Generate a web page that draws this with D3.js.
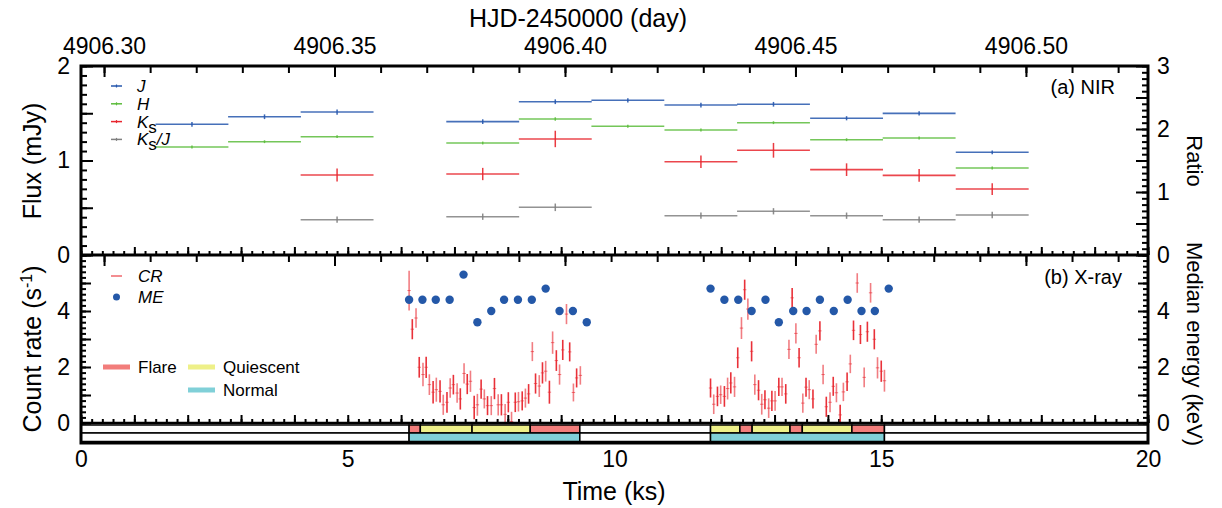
<!DOCTYPE html>
<html>
<head>
<meta charset="utf-8">
<script src="https://cdn.jsdelivr.net/npm/d3@7"></script>
<style>
  body { margin: 0; background: #fff; }
  text { font-family: "Liberation Sans", Arial, sans-serif; fill: #000; }
</style>
</head>
<body>
<svg id="chart" width="1222" height="508"></svg>
<script>
// ---- NIR photometry (panel a) ----
var nirTime = [2.08, 3.44, 4.80, 7.53, 8.89, 10.25, 11.62, 12.98, 14.35, 15.71, 17.08];
var nirHalfWidth = 0.683;
var fluxJ = [1.383, 1.463, 1.513, 1.411, 1.622, 1.637, 1.587, 1.595, 1.447, 1.499, 1.087];
var errJ  = [0.025, 0.025, 0.028, 0.025, 0.025, 0.022, 0.025, 0.025, 0.022, 0.022, 0.02];
var fluxH = [1.143, 1.199, 1.252, 1.185, 1.439, 1.362, 1.323, 1.400, 1.220, 1.238, 0.921];
var errH  = [0.015, 0.015, 0.015, 0.015, 0.018, 0.015, 0.015, 0.015, 0.015, 0.015, 0.015];
var fluxK = [null, null, 0.847, 0.857, 1.228, null, 0.987, 1.108, 0.903, 0.843, 0.698];
var errK  = [null, null, 0.069, 0.065, 0.087, null, 0.067, 0.078, 0.067, 0.067, 0.062];
var ratioKJ = [null, null, 0.56, 0.608, 0.757, null, 0.624, 0.694, 0.624, 0.56, 0.635];
var errKJ   = [null, null, 0.05, 0.05, 0.06, null, 0.05, 0.05, 0.05, 0.05, 0.05];

// ---- X-ray count rate (panel b) ----
var crTime = [6.15, 6.21, 6.28, 6.34, 6.41, 6.47, 6.53, 6.60, 6.66, 6.73, 6.79, 6.86, 6.92, 6.98, 7.05, 7.11, 7.18,
  7.24, 7.30, 7.37, 7.43, 7.50, 7.56, 7.62, 7.69, 7.75, 7.82, 7.88, 7.95, 8.01, 8.07, 8.14, 8.20, 8.27, 8.33, 8.39,
  8.46, 8.52, 8.59, 8.65, 8.71, 8.78, 8.84, 8.91, 8.97, 9.03, 9.10, 9.16, 9.23, 9.29, 9.36,
  11.80, 11.86, 11.93, 11.99, 12.06, 12.12, 12.18, 12.25, 12.31, 12.38, 12.44, 12.50, 12.57, 12.63, 12.70, 12.76,
  12.82, 12.89, 12.95, 13.01, 13.08, 13.14, 13.21, 13.27, 13.33, 13.40, 13.46, 13.53, 13.59, 13.65, 13.72, 13.78,
  13.85, 13.91, 13.97, 14.04, 14.10, 14.16, 14.23, 14.29, 14.36, 14.42, 14.48, 14.55, 14.61, 14.68, 14.74, 14.80,
  14.87, 14.93, 15.00, 15.06];
var crRate = [4.73, 3.35, 3.75, 1.99, 1.73, 1.99, 1.37, 1.10, 1.19, 1.13, 0.65, 0.74, 1.25, 1.37, 1.07, 0.86, 1.77,
  1.39, 1.49, 0.55, 0.65, 1.21, 0.86, 0.62, 0.62, 1.23, 0.65, 0.65, 0.31, 0.74, 0.05, 0.74, 0.76, 0.79, 0.89, 1.04,
  2.55, 1.41, 1.32, 1.79, 1.85, 1.10, 2.87, 2.23, 1.73, 2.61, 3.89, 2.54, 1.09, 1.61, 1.70,
  1.25, 0.67, 0.95, 1.01, 0.95, 1.23, 1.43, 1.29, 2.33, 3.39, 4.76, 4.07, 2.56, 1.37, 1.17, 0.67,
  0.83, 0.53, 0.79, 0.79, 1.29, 1.29, 1.04, 2.63, 4.47, 3.20, 2.33, 0.71, 1.28, 1.19, 0.86, 2.81,
  3.29, 1.73, 0.58, 0.74, 1.31, 1.08, 0.29, 1.11, 1.47, 2.11, 3.31, 5.00, 3.16, 1.63, 3.26, 4.65,
  2.99, 1.97, 1.85, 1.51];
var crErr = [0.71, 0.36, 0.35, 0.37, 0.42, 0.38, 0.37, 0.40, 0.43, 0.40, 0.36, 0.37, 0.35, 0.35, 0.35, 0.38, 0.36,
  0.36, 0.38, 0.42, 0.39, 0.34, 0.34, 0.34, 0.34, 0.38, 0.38, 0.38, 0.37, 0.36, 0.35, 0.35, 0.35, 0.34, 0.34, 0.35,
  0.34, 0.36, 0.39, 0.38, 0.37, 0.41, 0.40, 0.37, 0.36, 0.36, 0.36, 0.34, 0.32, 0.34, 0.33,
  0.34, 0.35, 0.35, 0.33, 0.37, 0.39, 0.38, 0.36, 0.37, 0.39, 0.36, 0.38, 0.36, 0.36, 0.36, 0.37,
  0.34, 0.35, 0.36, 0.35, 0.33, 0.33, 0.35, 0.34, 0.35, 0.36, 0.35, 0.34, 0.34, 0.34, 0.34, 0.34,
  0.34, 0.35, 0.36, 0.36, 0.34, 0.34, 0.36, 0.33, 0.33, 0.33, 0.35, 0.35, 0.34, 0.35, 0.36, 0.35,
  0.36, 0.38, 0.38, 0.39];
var crBinHalf = 0.032;

// ---- median energy ----
var meTime = [6.15, 6.40, 6.65, 6.91, 7.17, 7.43, 7.69, 7.93, 8.19, 8.45, 8.71, 8.97, 9.22, 9.48,
  11.80, 12.06, 12.32, 12.57, 12.83, 13.08, 13.35, 13.60, 13.85, 14.11, 14.37, 14.63, 14.88, 15.14];
var meVal = [4.4, 4.4, 4.4, 4.4, 5.3, 3.6, 4.0, 4.4, 4.4, 4.4, 4.8, 4.0, 4.0, 3.6,
  4.8, 4.4, 4.4, 4.0, 4.4, 3.6, 4.0, 4.0, 4.4, 4.0, 4.4, 4.0, 4.0, 4.8];

// ---- state intervals (bottom strip) ----
var stateStart = [0, 6.15, 6.36, 7.33, 8.42, 9.35, 11.80, 12.35, 12.58, 13.29, 13.52, 14.45, 15.06];
var stateEnd   = [6.15, 6.36, 7.33, 8.42, 9.35, 11.80, 12.35, 12.58, 13.29, 13.52, 14.45, 15.06, 20];
var stateType  = ["", "Flare", "Quiescent", "Quiescent", "Flare", "", "Quiescent", "Flare", "Quiescent", "Flare", "Quiescent", "Flare", ""];
var normalStart = [0, 6.15, 9.35, 11.80, 15.06];
var normalEnd   = [6.15, 9.35, 11.80, 15.06, 20];
var normalType  = ["", "Normal", "", "Normal", ""];

var hjdStart = 4906.295;  // HJD-2450000 at t = 0
var hjdTicks = [4906.30, 4906.35, 4906.40, 4906.45, 4906.50];

var colJ = "#2657ad", colH = "#5cbc3c", colK = "#e8262e", colR = "#808080";
var colCR = "#e8262e", colME = "#2458a8";
var stateColor = {"Flare": "#f27d7b", "Quiescent": "#eef088", "Normal": "#80d0d8", "": "#ffffff"};

// ---- geometry ----
var L = 81, R = 1148, T = 66, MID = 255, ZERO = 423, B = 443;
var svg = d3.select("#chart");

var x = d3.scaleLinear().domain([0, 20]).range([L, R]);
var xh = d3.scaleLinear().domain([hjdStart, hjdStart + 20 / 86.4]).range([L, R]);
var yFlux = d3.scaleLinear().domain([0, 2]).range([MID, T]);
var yRatio = d3.scaleLinear().domain([0, 3]).range([MID, T]);
var yRate = d3.scaleLinear().domain([0, 6]).range([ZERO, MID]);
var yME = d3.scaleLinear().domain([0, 6]).range([ZERO, MID]);

function range(a, b, s) { return d3.range(Math.round(a / s), Math.round(b / s) + 1).map(function(i) { return +(i * s).toFixed(4); }); }

// tick marks only
function ticks(axis, tx, ty, vals, size) {
  var g = svg.append("g").attr("transform", "translate(" + tx + "," + ty + ")")
    .call(axis.tickValues(vals).tickSize(size).tickSizeOuter(0).tickFormat(""));
  g.select(".domain").remove();
  g.selectAll("line").attr("stroke", "#000").attr("stroke-width", 2);
}
// labels only
function labels(axis, tx, ty, vals, fmt, pad, size) {
  var g = svg.append("g").attr("transform", "translate(" + tx + "," + ty + ")")
    .call(axis.tickValues(vals).tickSize(0).tickPadding(pad).tickFormat(fmt));
  g.select(".domain").remove();
  g.selectAll("text").attr("font-size", size || 23).attr("font-family", "Liberation Sans, Arial, sans-serif");
}

// HJD ticks pointing down (top of both panels)
var hjdMinor = d3.range(0, 24).map(function(i) { return +(4906.30 + i * 0.01).toFixed(2); }).filter(function(v) { return v < xh.domain()[1]; });
[T, MID].forEach(function(yy) {
  ticks(d3.axisBottom(xh), 0, yy, hjdMinor, 7);
  ticks(d3.axisBottom(xh), 0, yy, hjdTicks, 11);
});
// time ticks pointing up (bottom of both panels)
[MID, ZERO].forEach(function(yy) {
  ticks(d3.axisTop(x), 0, yy, range(0, 20, 0.2), 4);
  ticks(d3.axisTop(x), 0, yy, range(0, 20, 1), 8);
});
// left/right panel ticks
ticks(d3.axisRight(yFlux), L, 0, range(0, 2, 0.1), 6);
ticks(d3.axisRight(yFlux), L, 0, range(0, 2, 0.5), 12);
ticks(d3.axisLeft(yRatio), R, 0, range(0, 3, 0.1), 6);
ticks(d3.axisLeft(yRatio), R, 0, range(0, 3, 0.5), 12);
ticks(d3.axisRight(yRate), L, 0, range(0, 6, 0.2), 5);
ticks(d3.axisRight(yRate), L, 0, range(0, 6, 1), 10);
ticks(d3.axisLeft(yME), R, 0, range(0, 6, 0.2), 5);
ticks(d3.axisLeft(yME), R, 0, range(0, 6, 1), 10);

// tick labels
labels(d3.axisTop(xh), 0, T, hjdTicks, d3.format(".2f"), 12, 23);
labels(d3.axisBottom(x), 0, B, [0, 5, 10, 15, 20], d3.format("d"), 8);
labels(d3.axisLeft(yFlux), L, 0, [0, 1, 2], d3.format("d"), 11);
labels(d3.axisRight(yRatio), R, 0, [0, 1, 2, 3], d3.format("d"), 9);
labels(d3.axisLeft(yRate), L, 0, [0, 2, 4], d3.format("d"), 11);
labels(d3.axisRight(yME), R, 0, [0, 2, 4], d3.format("d"), 9);

// ---- panel a: horizontal bins with error bars ----
var nir = svg.append("g");
function nirSeries(vals, errs, scale, color) {
  nirTime.forEach(function(t, i) {
    if (vals[i] == null) return;
    nir.append("line")
      .attr("x1", x(t - nirHalfWidth)).attr("x2", x(t + nirHalfWidth))
      .attr("y1", scale(vals[i])).attr("y2", scale(vals[i]))
      .attr("stroke", color).attr("stroke-width", 1.6).attr("stroke-opacity", 0.85);
    nir.append("line")
      .attr("x1", x(t)).attr("x2", x(t))
      .attr("y1", scale(vals[i] - errs[i])).attr("y2", scale(vals[i] + errs[i]))
      .attr("stroke", color).attr("stroke-width", 1.5).attr("stroke-opacity", 0.9);
  });
}
nirSeries(ratioKJ, errKJ, yRatio, colR);
nirSeries(fluxK, errK, yFlux, colK);
nirSeries(fluxH, errH, yFlux, colH);
nirSeries(fluxJ, errJ, yFlux, colJ);

// ---- panel b ----
svg.append("clipPath").attr("id", "clipB").append("rect")
  .attr("x", L).attr("y", MID).attr("width", R - L).attr("height", ZERO - MID);
var pb = svg.append("g").attr("clip-path", "url(#clipB)");
crTime.forEach(function(t, i) {
  pb.append("line")
    .attr("x1", x(t)).attr("x2", x(t))
    .attr("y1", yRate(crRate[i] - crErr[i])).attr("y2", yRate(crRate[i] + crErr[i]))
    .attr("stroke", colCR).attr("stroke-width", 1.6).attr("stroke-opacity", i % 2 ? 0.95 : 0.6);
  pb.append("line")
    .attr("x1", x(t - crBinHalf)).attr("x2", x(t + crBinHalf))
    .attr("y1", yRate(crRate[i])).attr("y2", yRate(crRate[i]))
    .attr("stroke", colCR).attr("stroke-width", 1).attr("stroke-opacity", 0.6);
});
pb.selectAll("circle.me").data(meTime).enter().append("circle")
  .attr("class", "me")
  .attr("cx", function(d) { return x(d); })
  .attr("cy", function(d, i) { return yME(meVal[i]); })
  .attr("r", 4.2).attr("fill", colME);

// ---- state strip ----
function strip(starts, ends, types, y0, h) {
  starts.forEach(function(s, i) {
    svg.append("rect")
      .attr("x", x(s)).attr("y", y0).attr("width", x(ends[i]) - x(s)).attr("height", h)
      .attr("fill", stateColor[types[i]]).attr("stroke", "#000").attr("stroke-width", 1.5);
  });
}
strip(stateStart, stateEnd, stateType, 425, 8);
strip(normalStart, normalEnd, normalType, 433, 8.5);

// ---- frame ----
svg.append("rect").attr("x", L).attr("y", T).attr("width", R - L).attr("height", B - T)
  .attr("fill", "none").attr("stroke", "#000").attr("stroke-width", 3);
svg.append("line").attr("x1", L).attr("x2", R).attr("y1", MID).attr("y2", MID)
  .attr("stroke", "#000").attr("stroke-width", 3);
svg.append("line").attr("x1", L).attr("x2", R).attr("y1", ZERO).attr("y2", ZERO)
  .attr("stroke", "#000").attr("stroke-width", 2.5);

// ---- legends ----
var leg = svg.append("g").attr("font-size", 17);
var legA = [["J", colJ, ""], ["H", colH, ""], ["K", colK, "s"], ["K", colR, "s/J"]];
legA.forEach(function(d, i) {
  var yy = 86 + i * 17.8;
  leg.append("line").attr("x1", 111).attr("x2", 122).attr("y1", yy).attr("y2", yy)
    .attr("stroke", d[1]).attr("stroke-width", 1.5);
  leg.append("line").attr("x1", 116.5).attr("x2", 116.5).attr("y1", yy - 1.5).attr("y2", yy + 1.5)
    .attr("stroke", d[1]).attr("stroke-width", 1.2);
  var t = leg.append("text").attr("x", 137).attr("y", yy + 6).attr("font-style", "italic");
  t.append("tspan").text(d[0]);
  if (d[2] === "s") {
    t.append("tspan").attr("dy", 5).attr("font-style", "normal").text("s");
  } else if (d[2] === "s/J") {
    t.append("tspan").attr("dy", 5).attr("font-style", "normal").text("s");
    t.append("tspan").attr("dy", -5).text("/J");
  }
});
leg.append("text").attr("x", 1115).attr("y", 94).attr("text-anchor", "end").attr("font-size", 20).text("(a) NIR");
leg.append("text").attr("x", 1122).attr("y", 284).attr("text-anchor", "end").attr("font-size", 20).text("(b) X-ray");

leg.append("line").attr("x1", 111).attr("x2", 122).attr("y1", 276).attr("y2", 276)
  .attr("stroke", colCR).attr("stroke-width", 1.5).attr("stroke-opacity", 0.7);
leg.append("text").attr("x", 138).attr("y", 282).attr("font-style", "italic").text("CR");
leg.append("circle").attr("cx", 116.5).attr("cy", 297).attr("r", 3.5).attr("fill", colME);
leg.append("text").attr("x", 138).attr("y", 303).attr("font-style", "italic").text("ME");

var legStates = [["Flare", 103, 367], ["Quiescent", 188, 367], ["Normal", 188, 390]];
legStates.forEach(function(d) {
  leg.append("rect").attr("x", d[1]).attr("y", d[2] - 2.5).attr("width", 27).attr("height", 5)
    .attr("fill", stateColor[d[0]]);
  leg.append("text").attr("x", d[1] + 35).attr("y", d[2] + 6).text(d[0]);
});

// ---- axis titles ----
var ttl = svg.append("g").attr("font-size", 25);
ttl.append("text").attr("x", 578).attr("y", 27).attr("text-anchor", "middle").text("HJD-2450000 (day)");
ttl.append("text").attr("x", 614).attr("y", 500).attr("text-anchor", "middle").text("Time (ks)");
ttl.append("text").attr("transform", "translate(41,161) rotate(-90)").attr("text-anchor", "middle").text("Flux (mJy)");
var cr = ttl.append("text").attr("transform", "translate(41,349) rotate(-90)").attr("text-anchor", "middle");
cr.append("tspan").text("Count rate (s");
cr.append("tspan").attr("dy", -9).attr("font-size", 16).text("-1");
cr.append("tspan").attr("dy", 9).text(")");
ttl.append("text").attr("transform", "translate(1187,161) rotate(90)").attr("text-anchor", "middle").attr("font-size", 22).text("Ratio");
ttl.append("text").attr("transform", "translate(1187,344) rotate(90)").attr("text-anchor", "middle").attr("font-size", 22).text("Median energy (keV)");
</script>
</body>
</html>
